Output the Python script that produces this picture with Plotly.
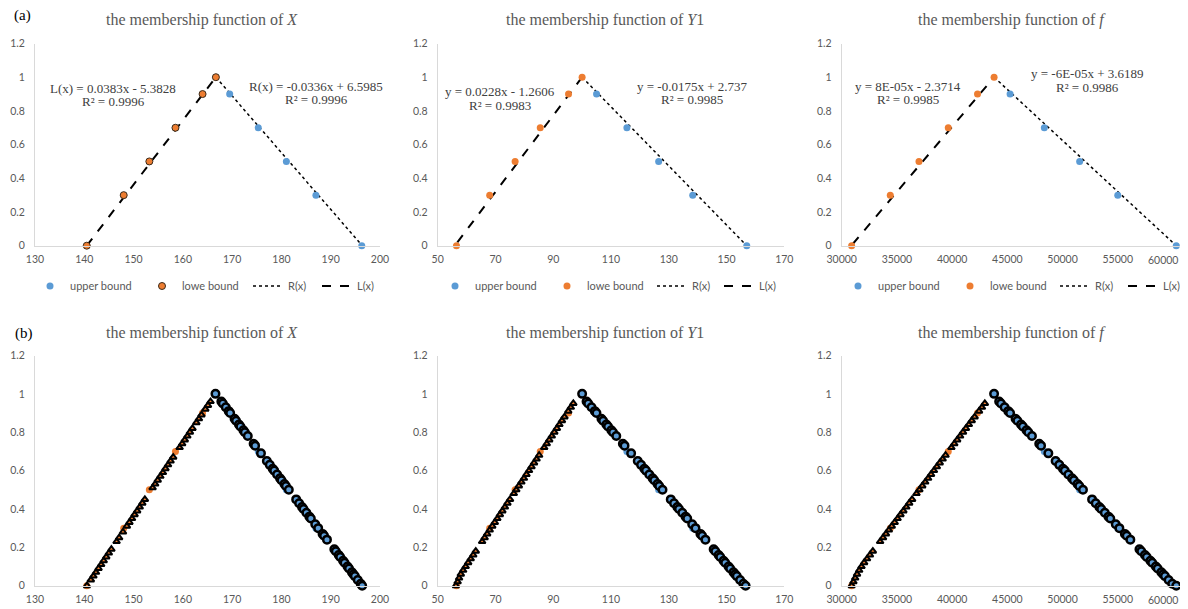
import plotly.graph_objects as go

BLUE = "#5B9BD5"
ORANGE = "#ED7D31"
GREY = "#595959"

# ---------------- (a) bound points ----------------
X_lower_x = [140.5, 148.0, 153.2, 158.5, 164.0, 166.7]
X_lower_y = [0, 0.3, 0.5, 0.7, 0.9, 1.0]
X_upper_x = [169.5, 175.3, 181.0, 187.0, 196.3]
X_upper_y = [0.9, 0.7, 0.5, 0.3, 0]

Y1_lower_x = [56.5, 68.0, 76.8, 85.5, 95.3, 100.0]
Y1_lower_y = [0, 0.3, 0.5, 0.7, 0.9, 1.0]
Y1_upper_x = [105.0, 115.5, 126.5, 138.3, 157.0]
Y1_upper_y = [0.9, 0.7, 0.5, 0.3, 0]

f_lower_x = [30900, 34400, 37000, 39650, 42300, 43800]
f_lower_y = [0, 0.3, 0.5, 0.7, 0.9, 1.0]
f_upper_x = [45250, 48350, 51550, 55000, 60300]
f_upper_y = [0.9, 0.7, 0.5, 0.3, 0]

# trendline end points
X_L_x, X_L_y = [140.5, 166.7], [0.0, 1.0]
X_R_x, X_R_y = [166.7, 196.4], [1.0, 0.0]
Y1_L_x, Y1_L_y = [56.8, 100.0], [0.02, 1.0]
Y1_R_x, Y1_R_y = [100.0, 157.0], [1.0, 0.0]
f_L_x, f_L_y = [31000, 43800], [0.01, 1.0]
f_R_x, f_R_y = [43800, 60300], [1.0, 0.0]

# trendline equations
X_L_eq = ["L(x) = 0.0383x - 5.3828", "R² = 0.9996"]
X_R_eq = ["R(x) = -0.0336x + 6.5985", "R² = 0.9996"]
Y1_L_eq = ["y = 0.0228x - 1.2606", "R² = 0.9983"]
Y1_R_eq = ["y = -0.0175x + 2.737", "R² = 0.9985"]
f_L_eq = ["y = 8E-05x - 2.3714", "R² = 0.9985"]
f_R_eq = ["y = -6E-05x + 3.6189", "R² = 0.9986"]

legend_names = ["upper bound", "lowe bound", "R(x)", "L(x)"]

# x tick values
X_ticks = [130, 140, 150, 160, 170, 180, 190, 200]
Y1_ticks = [50, 70, 90, 110, 130, 150, 170]
f_ticks = [30000, 35000, 40000, 45000, 50000, 55000, 60000]

# ---------------- (b) sampled points ----------------
X_left_y = [0, 0.03, 0.05, 0.07, 0.09, 0.11, 0.13, 0.15, 0.17, 0.19, 0.23, 0.25, 0.28, 0.31, 0.33,
            0.35, 0.37, 0.39, 0.41, 0.43, 0.45, 0.51, 0.53, 0.55, 0.57, 0.59, 0.61, 0.63, 0.65, 0.67,
            0.72, 0.74, 0.76, 0.78, 0.80, 0.82, 0.85, 0.87, 0.89, 0.92, 0.94, 0.96]
X_left_x = [140.54, 141.33, 141.85, 142.37, 142.89, 143.42, 143.94, 144.46, 144.98, 145.50, 146.55,
            147.07, 147.85, 148.64, 149.16, 149.68, 150.20, 150.73, 151.25, 151.77, 152.29, 153.86,
            154.38, 154.90, 155.43, 155.95, 156.47, 156.99, 157.51, 158.04, 159.34, 159.86, 160.39,
            160.91, 161.43, 161.95, 162.74, 163.26, 163.78, 164.56, 165.09, 165.61]

right_y = [1.0, 0.96, 0.95, 0.93, 0.91, 0.90, 0.87, 0.86, 0.84, 0.83, 0.81, 0.80, 0.78, 0.74, 0.73,
           0.69, 0.65, 0.63, 0.61, 0.60, 0.58, 0.56, 0.55, 0.53, 0.52, 0.50, 0.45, 0.43, 0.41, 0.40,
           0.38, 0.36, 0.35, 0.32, 0.30, 0.27, 0.26, 0.24, 0.19, 0.18, 0.16, 0.15, 0.13, 0.12, 0.10,
           0.09, 0.07, 0.06, 0.05, 0.03, 0.01, 0.0]
X_right_x = [166.62, 167.81, 168.11, 168.71, 169.30, 169.60, 170.49, 170.79, 171.38, 171.68, 172.28,
             172.57, 173.17, 174.36, 174.66, 175.85, 177.04, 177.63, 178.23, 178.53, 179.12, 179.71,
             180.01, 180.61, 180.91, 181.50, 182.99, 183.59, 184.18, 184.48, 185.07, 185.67, 185.97,
             186.86, 187.46, 188.35, 188.65, 189.24, 190.73, 191.03, 191.62, 191.92, 192.51, 192.81,
             193.41, 193.71, 194.30, 194.60, 194.90, 195.49, 196.09, 196.38]

left_y = [0, 0.02, 0.04, 0.06, 0.08, 0.10, 0.12, 0.14, 0.16, 0.18, 0.23, 0.25, 0.27, 0.29, 0.31, 0.33,
          0.35, 0.37, 0.39, 0.41, 0.43, 0.45, 0.48, 0.50, 0.52, 0.54, 0.56, 0.58, 0.60, 0.62, 0.64,
          0.66, 0.68, 0.72, 0.74, 0.76, 0.78, 0.80, 0.82, 0.84, 0.86, 0.88, 0.91, 0.93, 0.95]
Y1_left_x = [56.3, 56.9, 57.4, 58.0, 58.80, 59.68, 60.55, 61.43, 62.31, 63.18, 65.38, 66.25, 67.13,
             68.01, 68.89, 69.76, 70.64, 71.52, 72.39, 73.27, 74.15, 75.03, 76.34, 77.22, 78.10,
             78.97, 79.85, 80.73, 81.61, 82.48, 83.36, 84.24, 85.11, 86.87, 87.75, 88.62, 89.50,
             90.38, 91.26, 92.13, 93.01, 93.89, 95.20, 96.08, 96.96]
Y1_right_x = [100.0, 101.54, 102.11, 103.26, 104.40, 104.97, 106.69, 107.26, 108.40, 108.97, 110.11,
              110.69, 111.83, 114.11, 114.69, 116.97, 119.26, 120.40, 121.54, 122.11, 123.26, 124.40,
              124.97, 126.11, 126.69, 127.83, 130.69, 131.83, 132.97, 133.54, 134.69, 135.83, 136.40,
              138.11, 139.26, 140.97, 141.54, 142.69, 145.54, 146.11, 147.26, 147.83, 148.97, 149.54,
              150.69, 151.26, 152.40, 152.97, 153.54, 154.69, 155.83, 156.6]
f_left_x = [30900, 31060, 31220, 31390, 31580, 31790, 32030, 32294, 32557, 32821, 33479, 33743, 34006,
            34269, 34533, 34796, 35060, 35323, 35586, 35850, 36113, 36377, 36772, 37035, 37298,
            37562, 37825, 38089, 38352, 38615, 38879, 39142, 39406, 39932, 40196, 40459, 40723,
            40986, 41249, 41513, 41776, 42040, 42435, 42698, 42962]
f_right_x = [43800, 44260, 44425, 44755, 45085, 45250, 45745, 45910, 46240, 46405, 46735, 46900, 47230,
             47890, 48055, 48715, 49375, 49705, 50035, 50200, 50530, 50860, 51025, 51355, 51520,
             51850, 52675, 53005, 53335, 53500, 53830, 54160, 54325, 54820, 55150, 55645, 55810,
             56140, 56965, 57130, 57460, 57625, 57955, 58120, 58450, 58615, 58945, 59110, 59275,
             59605, 59935, 60300]

titles = ["the membership function of <i>X</i>",
          "the membership function of <i>Y</i>1",
          "the membership function of <i>f</i>"]

# the page body has an 8px margin, so the figure is drawn 8px smaller and offset
OFF = 8
W, H = 1188 - OFF, 609 - OFF
px = lambda v: (v - OFF) / W
py = lambda v: 1 - (v - OFF) / H

x_domains = [[px(35), px(380)], [px(437.7), px(784.3)], [px(841.7), px(1184)]]
x_ranges = [[130, 200], [50, 170], [30000, 61000]]
x_ticks = [X_ticks, Y1_ticks, f_ticks[:-1]]   # last f label is placed as an annotation (edge)
top_y_dom = [py(245.7), py(43.5)]
bot_y_dom = [py(585.7), py(355.5)]
title_cx = [202, 605, 1012]
# legend symbol centres (px) per panel: upper, lower, R, L
legend_sym_cx = [[50, 162, 268, 337], [455, 567, 672, 739], [858, 970, 1075, 1143]]

fig = go.Figure()

top_data = [
    (X_lower_x, X_lower_y, X_upper_x, X_upper_y, X_L_x, X_L_y, X_R_x, X_R_y, True),
    (Y1_lower_x, Y1_lower_y, Y1_upper_x, Y1_upper_y, Y1_L_x, Y1_L_y, Y1_R_x, Y1_R_y, False),
    (f_lower_x, f_lower_y, f_upper_x, f_upper_y, f_L_x, f_L_y, f_R_x, f_R_y, False),
]
bot_data = [
    (X_lower_x, X_lower_y, X_upper_x, X_upper_y, X_left_x, X_left_y, X_right_x, right_y),
    (Y1_lower_x, Y1_lower_y, Y1_upper_x, Y1_upper_y, Y1_left_x, left_y, Y1_right_x, right_y),
    (f_lower_x, f_lower_y, f_upper_x, f_upper_y, f_left_x, left_y, f_right_x, right_y),
]


def lgname(panel, item):
    n = panel * 4 + item + 1
    return "legend" if n == 1 else f"legend{n}"


for i, (lx, ly, ux, uy, Lx, Ly, Rx, Ry, outline) in enumerate(top_data):
    xa = "x" if i == 0 else f"x{i+1}"
    ya = "y" if i == 0 else f"y{i+1}"
    fig.add_trace(go.Scatter(x=Rx, y=Ry, mode="lines", name=legend_names[2], xaxis=xa, yaxis=ya,
                             legend=lgname(i, 2),
                             line=dict(color="black", width=1.5, dash="dot")))
    fig.add_trace(go.Scatter(x=Lx, y=Ly, mode="lines", name=legend_names[3], xaxis=xa, yaxis=ya,
                             legend=lgname(i, 3),
                             line=dict(color="black", width=2, dash="dash")))
    fig.add_trace(go.Scatter(x=ux, y=uy, mode="markers", name=legend_names[0], xaxis=xa, yaxis=ya,
                             legend=lgname(i, 0), cliponaxis=False,
                             marker=dict(color=BLUE, size=7, line=dict(width=0))))
    fig.add_trace(go.Scatter(x=lx, y=ly, mode="markers", name=legend_names[1], xaxis=xa, yaxis=ya,
                             legend=lgname(i, 1), cliponaxis=False,
                             marker=dict(color=ORANGE, size=7,
                                         line=dict(width=1 if outline else 0, color="#3a2a1a"))))

for i, (lx, ly, ux, uy, slx, sly, srx, sry) in enumerate(bot_data):
    xa = f"x{i+4}"
    ya = f"y{i+4}"
    fig.add_trace(go.Scatter(x=ux, y=uy, mode="markers", showlegend=False, xaxis=xa, yaxis=ya,
                             cliponaxis=False, marker=dict(color=BLUE, size=7)))
    fig.add_trace(go.Scatter(x=lx, y=ly, mode="markers", showlegend=False, xaxis=xa, yaxis=ya,
                             cliponaxis=False, marker=dict(color=ORANGE, size=7)))
    fig.add_trace(go.Scatter(x=slx, y=sly, mode="markers", showlegend=False, xaxis=xa, yaxis=ya,
                             cliponaxis=False,
                             marker=dict(symbol="triangle-up", color=ORANGE, size=6,
                                         line=dict(color="black", width=2))))
    fig.add_trace(go.Scatter(x=srx, y=sry, mode="markers", showlegend=False, xaxis=xa, yaxis=ya,
                             cliponaxis=False,
                             marker=dict(symbol="circle", color=BLUE, size=7.5,
                                         line=dict(color="black", width=2.5))))

layout = dict(width=W, height=H, margin=dict(l=0, r=0, t=0, b=0, autoexpand=False),
              paper_bgcolor="white", plot_bgcolor="white", showlegend=True)

tickfont = dict(family="Lato, Open Sans, sans-serif", size=10.5, color=GREY)
for k in range(6):
    col = k % 3
    top = k < 3
    xname = "xaxis" if k == 0 else f"xaxis{k+1}"
    yname = "yaxis" if k == 0 else f"yaxis{k+1}"
    anchor_y = "y" if k == 0 else f"y{k+1}"
    anchor_x = "x" if k == 0 else f"x{k+1}"
    layout[xname] = dict(domain=x_domains[col], range=x_ranges[col], tickmode="array",
                         tickvals=x_ticks[col], anchor=anchor_y, showgrid=False, zeroline=False,
                         showline=True, linecolor="#D9D9D9", linewidth=1, automargin=False,
                         ticks="outside", ticklen=4, tickcolor="rgba(0,0,0,0)", tickformat="d",
                         ticklabeloverflow="allow",
                         tickfont=tickfont, fixedrange=True)
    layout[yname] = dict(domain=top_y_dom if top else bot_y_dom, range=[0, 1.2], dtick=0.2,
                         tick0=0, anchor=anchor_x, showgrid=False, zeroline=False,
                         showline=True, linecolor="#D9D9D9", linewidth=1, automargin=False,
                         ticks="outside", ticklen=7, tickcolor="rgba(0,0,0,0)",
                         tickfont=tickfont, fixedrange=True)

legfont = dict(family="Lato, Open Sans, sans-serif", size=11, color=GREY)
for p in range(3):
    for it in range(4):
        layout[lgname(p, it)] = dict(orientation="h", x=px(legend_sym_cx[p][it] - 20), xanchor="left",
                                     y=py(286), yanchor="middle", font=legfont,
                                     bgcolor="rgba(0,0,0,0)", borderwidth=0, itemwidth=30)

fig.update_layout(**layout)

annotations = []
serif = "Liberation Serif, Times New Roman, serif"
for i in range(3):
    for ty in (20, 333):
        annotations.append(dict(text=titles[i], x=px(title_cx[i]), y=py(ty), xref="paper", yref="paper",
                                showarrow=False, xanchor="center", yanchor="middle",
                                font=dict(family=serif, size=16, color=GREY)))
annotations.append(dict(text="(a)", x=px(12), y=py(16), xref="paper", yref="paper", showarrow=False,
                        xanchor="left", yanchor="middle", font=dict(family=serif, size=15, color="black")))
annotations.append(dict(text="(b)", x=px(13), y=py(333), xref="paper", yref="paper", showarrow=False,
                        xanchor="left", yanchor="middle", font=dict(family=serif, size=15, color="black")))

# last f tick label (sits at the right edge of the page)
for xr, ty in (("x3", 259.5), ("x6", 599.5)):
    annotations.append(dict(text=str(f_ticks[-1]), x=f_ticks[-1], xref=xr, y=py(ty), yref="paper",
                            showarrow=False, xanchor="right", yanchor="middle", xshift=7,
                            font=tickfont))

eqs = [(X_L_eq, 113, 88), (X_R_eq, 316, 86), (Y1_L_eq, 500, 92), (Y1_R_eq, 692, 86),
       (f_L_eq, 908, 86), (f_R_eq, 1087, 73)]
for lines, cx, cy in eqs:
    annotations.append(dict(text=lines[0], x=px(cx), y=py(cy), xref="paper", yref="paper",
                            showarrow=False, xanchor="center", yanchor="middle",
                            font=dict(family=serif, size=13, color="#404040")))
    annotations.append(dict(text=lines[1], x=px(cx), y=py(cy + 14), xref="paper", yref="paper",
                            showarrow=False, xanchor="center", yanchor="middle",
                            font=dict(family=serif, size=13, color="#404040")))
fig.update_layout(annotations=annotations)

fig.write_html("out.html")
